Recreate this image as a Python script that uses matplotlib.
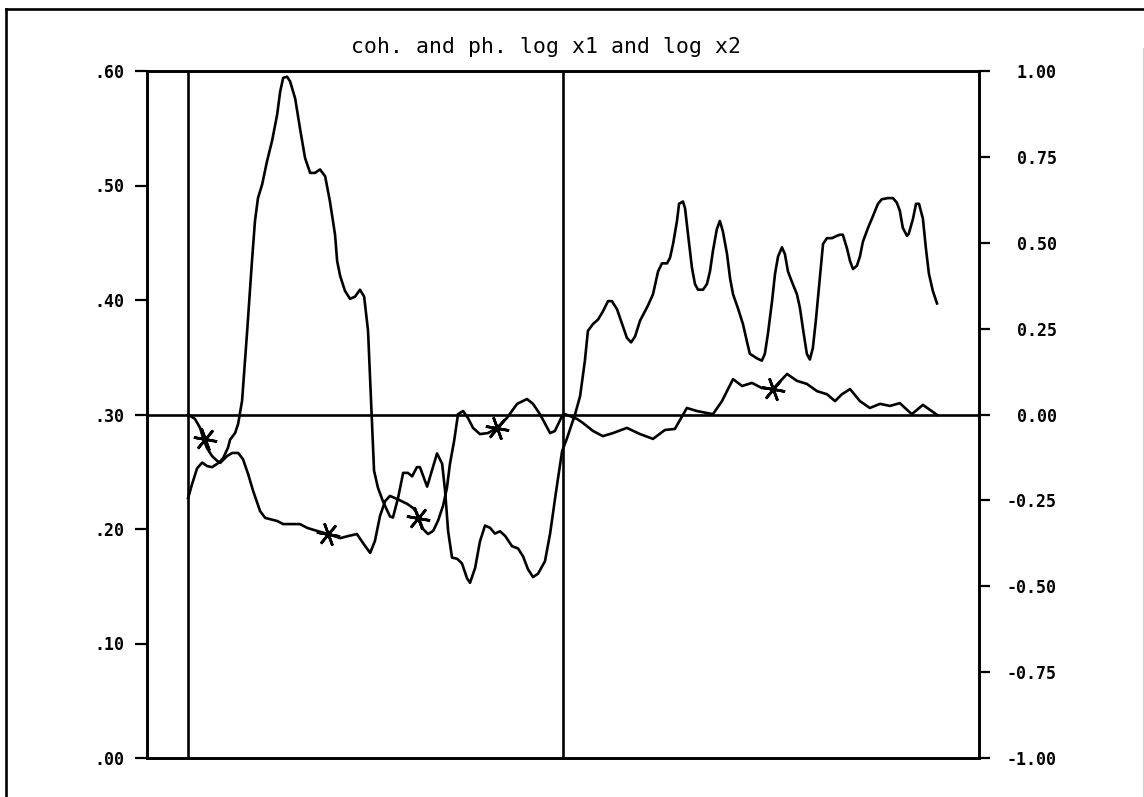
import matplotlib
matplotlib.use("Agg")
import matplotlib.pyplot as plt
from matplotlib.lines import Line2D

# frequency index (0 .. 250 = 0 .. 0.5 cycles)
coh_k = [0, 1.3, 3, 4.7, 6.3, 8, 9.7, 10.7, 11.7, 13.3, 14, 15.7, 16.7, 18, 19.7, 21.3,
         22.3, 23.3, 24.7, 26.3, 28, 29.7, 30.7, 31.7, 33, 34, 35.7, 37.3, 39, 40.7, 42.3,
         44, 45.7, 47.3, 49, 49.7, 50.7, 52.3, 54, 55.7, 57.3, 58.7, 60, 61, 62, 63.3, 65,
         67.3, 68.3, 70, 71.7, 73.3, 74.7, 76.3, 77.3, 79.7, 81.3, 83, 84.7, 85.7, 86.7,
         88, 89.7, 91.3, 93, 94, 95.7, 97.3, 99, 100.7, 102.3, 104, 105.7, 108, 110, 111.7,
         113.3, 115, 116.7, 119, 120.7, 122.7, 124.7, 126.3, 129, 130.7, 132.3, 133.3, 135,
         136.7, 138.3, 140, 141.3, 143, 144.7, 146.3, 147.7, 149, 150.7, 152.3, 153.3, 155,
         156.7, 158, 159.7, 160.7, 161.7, 163, 163.7, 165, 165.7, 166.7, 168, 169, 170,
         171.7, 173, 174, 175, 176.3, 177.3, 178.3, 179.7, 180.7, 181.7, 183.3, 185, 186.3,
         187.3, 189.7, 191.3, 192.3, 193.3, 194.7, 195.7, 196.7, 198, 199, 200, 201.3, 203,
         204, 205, 206.3, 207.3, 208.3, 209.3, 210.3, 211.7, 213, 214.7, 216.3, 217.3,
         218.3, 219.7, 220.7, 221.7, 223, 224, 225, 226.7, 228.3, 230, 231.3, 233.3, 235,
         236.3, 237.3, 238.3, 239.7, 240.3, 241.7, 242.7, 243.7, 245, 246, 247, 248.3, 249.7]
coh = [0.227, 0.239, 0.253, 0.258, 0.255, 0.254, 0.257, 0.259, 0.262, 0.271, 0.278, 0.284,
       0.292, 0.312, 0.373, 0.434, 0.469, 0.489, 0.501, 0.521, 0.539, 0.562, 0.582, 0.594,
       0.595, 0.591, 0.576, 0.550, 0.524, 0.511, 0.511, 0.514, 0.508, 0.486, 0.457, 0.434,
       0.421, 0.408, 0.401, 0.403, 0.409, 0.403, 0.373, 0.312, 0.251, 0.236, 0.224, 0.211,
       0.210, 0.227, 0.249, 0.249, 0.246, 0.254, 0.254, 0.237, 0.251, 0.266, 0.257, 0.233,
       0.198, 0.175, 0.174, 0.170, 0.157, 0.153, 0.166, 0.189, 0.203, 0.201, 0.196, 0.198,
       0.194, 0.185, 0.183, 0.176, 0.165, 0.158, 0.161, 0.172, 0.196, 0.233, 0.268, 0.279,
       0.300, 0.316, 0.347, 0.373, 0.379, 0.383, 0.390, 0.399, 0.399, 0.392, 0.379, 0.367,
       0.363, 0.368, 0.382, 0.390, 0.395, 0.405, 0.425, 0.432, 0.432, 0.437, 0.449, 0.469,
       0.484, 0.486, 0.480, 0.457, 0.428, 0.414, 0.409, 0.409, 0.414, 0.425, 0.443, 0.462,
       0.469, 0.460, 0.440, 0.419, 0.405, 0.393, 0.379, 0.364, 0.353, 0.349, 0.347, 0.353,
       0.370, 0.399, 0.423, 0.438, 0.446, 0.440, 0.425, 0.416, 0.405, 0.393, 0.375, 0.353,
       0.348, 0.358, 0.382, 0.410, 0.449, 0.454, 0.454, 0.456, 0.457, 0.457, 0.445, 0.434,
       0.427, 0.430, 0.438, 0.451, 0.463, 0.473, 0.484, 0.488, 0.489, 0.489, 0.485, 0.478,
       0.463, 0.456, 0.458, 0.471, 0.484, 0.484, 0.471, 0.445, 0.423, 0.408, 0.397]

ph_k = [0, 2.3, 4, 5, 6.3, 8, 9.7, 10.7, 13, 14.7, 16.7, 18.3, 20, 21.7, 24, 25.7, 29.7,
        31.7, 35, 37.3, 39.7, 43, 46.7, 50.7, 53.3, 56.3, 58.3, 60.7, 62.3, 64, 65.7, 67.3,
        69.7, 73, 75, 76.3, 77.3, 78.3, 80, 81.7, 83.3, 85, 86.3, 87.3, 88.7, 90, 91.7,
        93.3, 95, 97.3, 100, 103, 106.3, 109.7, 113, 115, 117.3, 120.7, 122.3, 124.7, 125.7,
        129.7, 131.7, 135, 138.3, 141.7, 146.3, 150.7, 155, 159, 162.3, 166.3, 169.7, 175,
        178, 181.7, 184.7, 188, 191.3, 195, 199.7, 203, 206.3, 209.7, 213, 215.7, 218,
        220.7, 224, 227.3, 230.7, 234, 237.3, 241.3, 245, 249.7]
ph = [0.000, -0.013, -0.039, -0.068, -0.098, -0.121, -0.135, -0.141, -0.121, -0.112,
      -0.112, -0.130, -0.173, -0.223, -0.281, -0.301, -0.310, -0.319, -0.319, -0.319,
      -0.330, -0.339, -0.348, -0.360, -0.354, -0.348, -0.374, -0.403, -0.368, -0.295,
      -0.252, -0.237, -0.246, -0.260, -0.272, -0.287, -0.310, -0.333, -0.348, -0.339,
      -0.310, -0.266, -0.214, -0.144, -0.077, 0.001, 0.010, -0.010, -0.039, -0.057,
      -0.054, -0.039, -0.010, 0.031, 0.045, 0.031, 0.001, -0.054, -0.048, -0.004, 0.001,
      -0.013, -0.025, -0.048, -0.063, -0.054, -0.039, -0.057, -0.071, -0.045, -0.042,
      0.019, 0.010, 0.001, 0.039, 0.103, 0.083, 0.092, 0.077, 0.074, 0.118, 0.098, 0.089,
      0.068, 0.059, 0.039, 0.059, 0.074, 0.039, 0.019, 0.031, 0.025, 0.033, 0.001, 0.028,
      -0.001]

# labelled points on the phase curve
star_k = [5.7, 46.7, 76.7, 103, 195]
star_ph = [-0.070, -0.348, -0.300, -0.039, 0.074]

coh_ticks = [0.0, 0.1, 0.2, 0.3, 0.4, 0.5, 0.6]
coh_labels = [".00", ".10", ".20", ".30", ".40", ".50", ".60"]
ph_ticks = [-1.0, -0.75, -0.5, -0.25, 0.0, 0.25, 0.5, 0.75, 1.0]
ph_labels = ["-1.00", "-0.75", "-0.50", "-0.25", "0.00", "0.25", "0.50", "0.75", "1.00"]
marks_k = [0, 125]

W, H = 1144, 797
fig = plt.figure(figsize=(W / 100, H / 100), dpi=100)
ax = fig.add_axes([147 / W, 1 - 758 / H, 832 / W, 687 / H])
ax2 = ax.twinx()

lw = 1.9
ax.plot(coh_k, coh, color="black", lw=lw, solid_joinstyle="round")
ax2.plot(ph_k, ph, color="black", lw=lw, solid_joinstyle="round")
# six-armed asterisk
ax2.plot(star_k, star_ph, ls="none", marker=(6, 2, 20), ms=17, mew=1.9, color="black")

for k in marks_k:
    ax.axvline(k, color="black", lw=lw)
ax2.axhline(0.0, color="black", lw=lw)

ax.set_xlim(-13.7, 263.7)
ax.set_ylim(0, 0.6)
ax2.set_ylim(-1, 1)
ax.set_xticks([])

tick_font = dict(family="DejaVu Sans Mono", weight="bold", size=12)
ax.set_yticks(coh_ticks)
ax.set_yticklabels(coh_labels, **tick_font)
ax2.set_yticks(ph_ticks)
ax2.set_yticklabels(ph_labels, **tick_font, ha="right")
ax.tick_params(axis="y", direction="out", length=9, width=1.6, pad=7)
ax2.tick_params(axis="y", direction="out", length=8, width=1.6, pad=48)

for a in (ax, ax2):
    for s in a.spines.values():
        s.set_linewidth(lw)

fig.text(546 / W, 1 - 47 / H, "coh. and ph. log x1 and log x2",
         family="DejaVu Sans Mono", size=15.5, ha="center", va="center")

# page frame
fy = 1 - 9 / H
fx = 6 / W
fig.add_artist(Line2D([fx, 1], [fy, fy], transform=fig.transFigure, color="black", lw=lw))
fig.add_artist(Line2D([fx, fx], [0, fy], transform=fig.transFigure, color="black", lw=lw))
fig.add_artist(Line2D([1142.5 / W, 1142.5 / W], [0, 1 - 48 / H], transform=fig.transFigure,
                      color="#cfcfcf", lw=0.8))

fig.savefig("out.png", dpi=100)
